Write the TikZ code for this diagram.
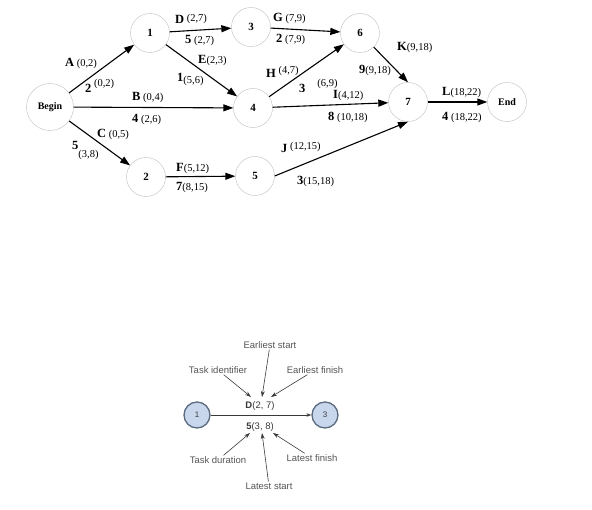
\documentclass[tikz,border=0pt]{standalone}
\usepackage{fontspec}
\setmainfont{Liberation Serif}
\newfontfamily\legendfont{Liberation Sans}
\usetikzlibrary{arrows.meta}
\definecolor{ringgrey}{HTML}{BDBDBD}
\definecolor{legendblue}{HTML}{C9D7EC}
\definecolor{legendedge}{HTML}{5B6B80}
\definecolor{notegrey}{HTML}{555555}
\definecolor{pengrey}{HTML}{3A3A3A}
% activity label: bold letter or duration, then the time pair
\newcommand{\act}[2]{{\fontsize{12.5}{14}\selectfont\bfseries #1}{\fontsize{10.5}{12}\selectfont #2}}
\tikzset{
  event/.style={draw=ringgrey, circle, minimum size=39pt, inner sep=0pt,
    font=\fontsize{11}{12}\selectfont\bfseries},
  task/.style={-{Triangle[length=10pt,width=7pt]}, line width=1.1pt},
  actlabel/.style={anchor=base west, inner sep=0pt},
  stage/.style={circle, draw=legendedge, fill=legendblue, line width=1.3pt,
    minimum size=26pt, inner sep=0pt, text=pengrey, font=\legendfont\fontsize{8}{10}\selectfont},
  note/.style={text=notegrey, inner sep=1pt, font=\legendfont\fontsize{9.5}{11}\selectfont},
  callout/.style={-{Stealth[length=6pt,width=4pt]}, draw=pengrey, line width=0.6pt}
}
\begin{document}
\begin{tikzpicture}[x=1pt, y=-1pt]
\useasboundingbox (0,0) rectangle (592,510);
% events
\node[event, minimum size=47pt, font=\fontsize{10}{12}\selectfont\bfseries] (begin) at (50,107) {Begin};
\node[event] (n1) at (150,33) {1};
\node[event] (n3) at (251,27) {3};
\node[event] (n6) at (360,33) {6};
\node[event] (n4) at (253,108) {4};
\node[event] (n7) at (408,102) {7};
\node[event, font=\fontsize{10}{12}\selectfont\bfseries] (finish) at (507,102) {End};
\node[event] (n2) at (146,177) {2};
\node[event] (n5) at (255,176) {5};
% activities
\draw[task] (begin) -- (n1);
\draw[task] (begin) -- (n4);
\draw[task] (begin) -- (n2);
\draw[task] (n1) -- (n3);
\draw[task] (n1) -- (n4);
\draw[task] (n3) -- (n6);
\draw[task] (n4) -- (n6);
\draw[task] (n4) -- (n7);
\draw[task] (n2) -- (n5);
\draw[task] (n5.east) -- (n7.south);
\draw[task] (n6) -- (n7.north);
\draw[task] (n7) -- (finish);
% labels
\node[actlabel] (la) at (65,67) {\act{A}{ (0,2)}};
\node[actlabel] (la2) at (85,93) {\act{2}{ \raisebox{6pt}{(0,2)}}};
\node[actlabel] (lb) at (132,101) {\act{B}{ (0,4)}};
\node[actlabel] (lb2) at (132,123) {\act{4}{ (2,6)}};
\node[actlabel] (lc) at (97,138) {\act{C}{ (0,5)}};
\node[actlabel] (lc2) at (72,150) {\act{5}{\raisebox{-8pt}{(3,8)}}};
\node[actlabel] (ld) at (175,24) {\act{D}{ \raisebox{2pt}{(2,7)}}};
\node[actlabel] (ld2) at (185,44) {\act{5}{ (2,7)}};
\node[actlabel] (le) at (198,64) {\act{E}{(2,3)}};
\node[actlabel] (le2) at (177,82) {\act{1}{\raisebox{-2pt}{(5,6)}}};
\node[actlabel] (lf) at (176,172) {\act{F}{(5,12)}};
\node[actlabel] (lf2) at (176,191) {\act{7}{(8,15)}};
\node[actlabel] (lg) at (273,22) {\act{G}{ (7,9)}};
\node[actlabel] (lg2) at (276,43) {\act{2}{ (7,9)}};
\node[actlabel] (lh) at (266,78) {\act{H}{ \raisebox{4pt}{(4,7)}}};
\node[actlabel] (lh2) at (299,93) {\act{3}{\hspace{12pt}\raisebox{6pt}{(6,9)}}};
\node[actlabel] (li) at (333,99) {\act{I}{(4,12)}};
\node[actlabel] (li2) at (328,121) {\act{8}{ (10,18)}};
\node[actlabel] (lj) at (281,153) {\act{J}{ \raisebox{3pt}{(12,15)}}};
\node[actlabel] (lj2) at (297,185) {\act{3}{(15,18)}};
\node[actlabel] (lk) at (397,51) {\act{K}{(9,18)}};
\node[actlabel] (lk2) at (359,74) {\act{9}{(9,18)}};
\node[actlabel] (ll) at (442,96) {\act{L}{(18,22)}};
\node[actlabel] (ll2) at (442,121) {\act{4}{ (18,22)}};
% key
\node[stage] (k1) at (197,415) {1};
\node[stage] (k3) at (325,415) {3};
\draw[-{Stealth[length=5pt,width=3.5pt]}, draw=pengrey, line width=0.6pt] (k1) -- (k3);
\node[note, text=pengrey] (kid) at (260,406) {\textbf{D}(2, 7)};
\node[note, text=pengrey] (kdur) at (260,427) {\textbf{5}(3, 8)};
\node[note] (es) at (270,345) {Earliest start};
\node[note] (ti) at (218,370) {Task identifier};
\node[note] (ef) at (315,370) {Earliest finish};
\node[note] (td) at (218,460) {Task duration};
\node[note] (lf) at (312,458) {Latest finish};
\node[note] (ls) at (269,486) {Latest start};
\coordinate (estip) at (262,397);
\coordinate (titip) at (251,397);
\coordinate (eftip) at (271,397);
\coordinate (tdtip) at (250,433);
\coordinate (lftip) at (273,433);
\coordinate (lstip) at (262,433);
\draw[callout] (es) -- (estip);
\draw[callout] (ti) -- (titip);
\draw[callout] (ef) -- (eftip);
\draw[callout] (td) -- (tdtip);
\draw[callout] (lf) -- (lftip);
\draw[callout] (ls) -- (lstip);
\end{tikzpicture}
\end{document}
